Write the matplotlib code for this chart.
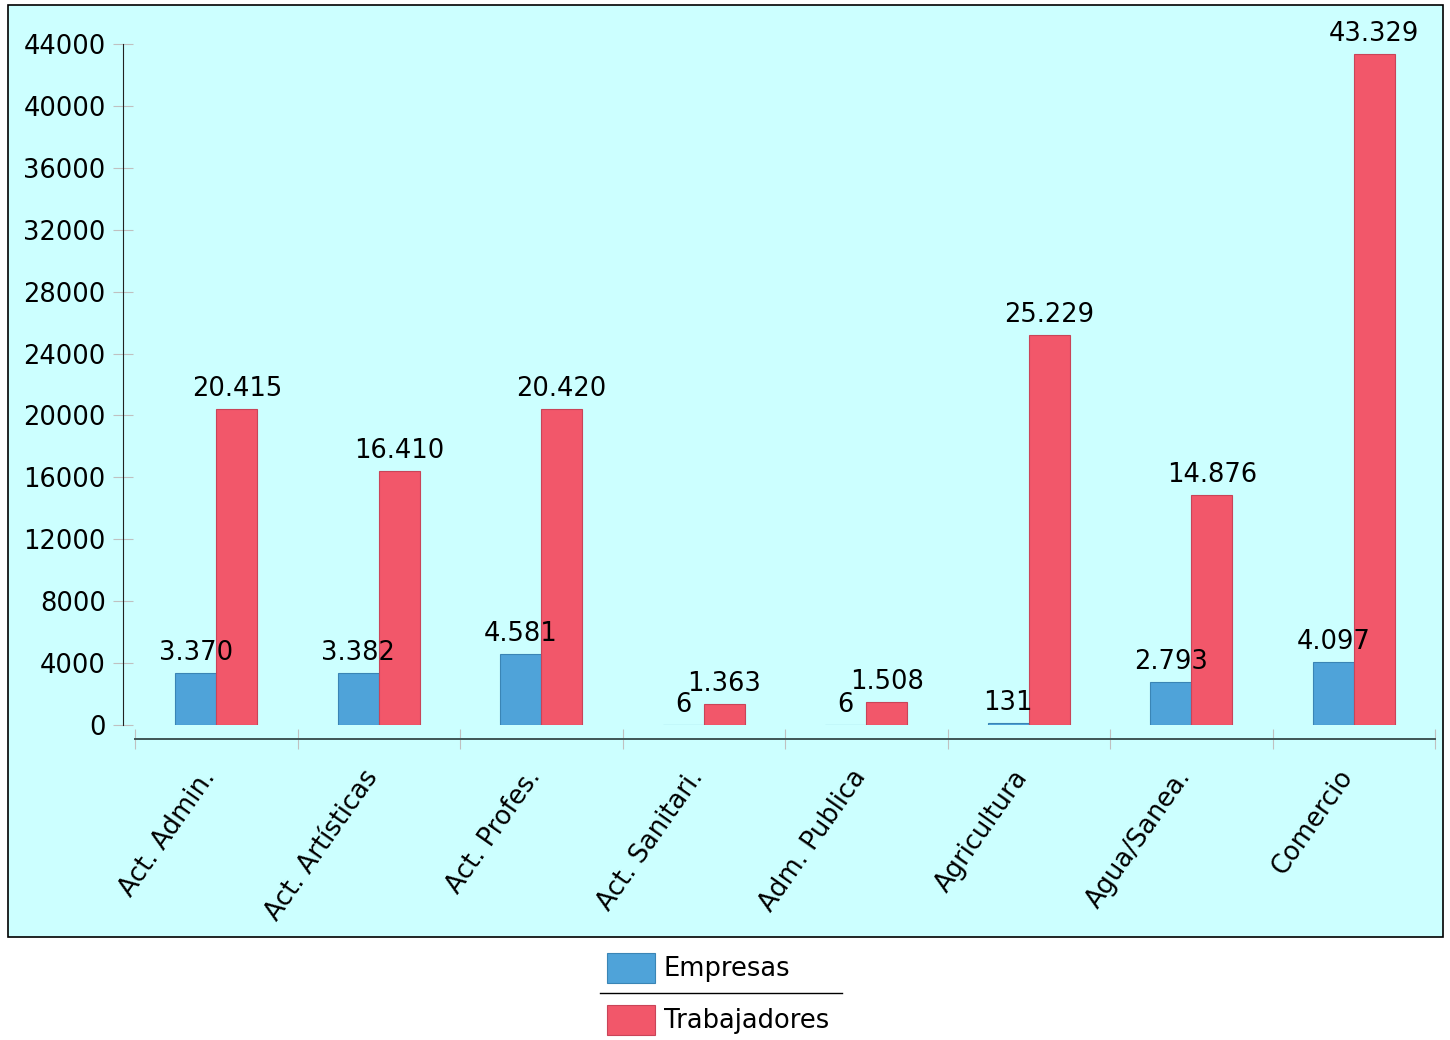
import numpy as np
import matplotlib
matplotlib.use("Agg")
import matplotlib.pyplot as plt
from matplotlib.patches import Rectangle
from matplotlib.lines import Line2D

# datos
sectores = ["Act. Admin.", "Act. Artísticas", "Act. Profes.", "Act. Sanitari.",
            "Adm. Publica", "Agricultura", "Agua/Sanea.", "Comercio"]
empresas = [3370, 3382, 4581, 6, 6, 131, 2793, 4097]
trabajadores = [20415, 16410, 20420, 1363, 1508, 25229, 14876, 43329]
yticks = list(range(0, 44001, 4000))

W, H = 1450, 1040
col_emp = "#4FA3D9"
col_trab = "#F2576A"
fs = 18.5

plt.rcParams['font.family'] = ['DejaVu Sans']
fig = plt.figure(figsize=(W / 100, H / 100), dpi=100)

# fondo del panel
fondo = Rectangle((8 / W, 1 - 937 / H), (1443 - 8) / W, (937 - 5) / H,
                  transform=fig.transFigure, facecolor="#CCFFFF",
                  edgecolor="black", linewidth=1.2, zorder=-5)
fig.add_artist(fondo)

ax = fig.add_axes([135 / W, 1 - 725 / H, (1435 - 135) / W, (725 - 44) / H])
ax.set_facecolor("none")
ax.set_zorder(2)

x = np.arange(len(sectores))
bw = 41 / 162.5
ax.bar(x - bw / 2, empresas, bw, color=col_emp, edgecolor="#3A85B5", linewidth=0.8)
ax.bar(x + bw / 2, trabajadores, bw, color=col_trab, edgecolor="#C94458", linewidth=0.8)

def fmt(v):
    return f"{v:,}".replace(",", ".")

for xi, v in zip(x, empresas):
    ax.annotate(fmt(v), (xi - bw / 2, v), xytext=(0, 5), textcoords="offset points",
                ha="center", va="bottom", fontsize=fs)
for xi, v in zip(x, trabajadores):
    ax.annotate(fmt(v), (xi + bw / 2, v), xytext=(0, 5), textcoords="offset points",
                ha="center", va="bottom", fontsize=fs)

ax.set_xlim(-0.5, len(sectores) - 0.5)
ax.set_ylim(0, 44000)

for s in ["top", "right"]:
    ax.spines[s].set_visible(False)
ax.spines["left"].set_position(("outward", 8.6))
ax.spines["bottom"].set_position(("outward", 10))
ax.spines["left"].set_color("#222222")
ax.spines["bottom"].set_color("#3F5555")
ax.spines["bottom"].set_linewidth(1.4)

ax.set_yticks(yticks)
ax.set_yticklabels([str(t) for t in yticks], fontsize=fs)
ax.tick_params(axis="y", direction="inout", length=15, color="#C0C0C0", pad=5)

ax.set_xticks(np.arange(-0.5, len(sectores)), minor=False)
ax.set_xticklabels([])
ax.tick_params(axis="x", which="major", direction="inout", length=15, color="#C0C0C0")
ax.set_xticks(x, minor=True)
ax.set_xticklabels(sectores, minor=True, rotation=55, ha="right", va="baseline",
                   rotation_mode="anchor", fontsize=fs)
ax.tick_params(axis="x", which="minor", length=0, pad=27)

# leyenda
for i, (lab, c, ec) in enumerate([("Empresas", col_emp, "#3A85B5"),
                                  ("Trabajadores", col_trab, "#C94458")]):
    y0 = 953 + i * 52
    fig.add_artist(Rectangle((607 / W, 1 - (y0 + 30) / H), 48 / W, 30 / H,
                             transform=fig.transFigure, facecolor=c,
                             edgecolor=ec, linewidth=0.8))
    fig.text(664 / W, 1 - (y0 + 16) / H, lab, fontsize=fs, ha="left", va="center")
fig.add_artist(Line2D([600 / W, 842 / W], [1 - 993 / H, 1 - 993 / H],
                      transform=fig.transFigure, color="black", linewidth=1))

fig.savefig("out.png", dpi=100)
